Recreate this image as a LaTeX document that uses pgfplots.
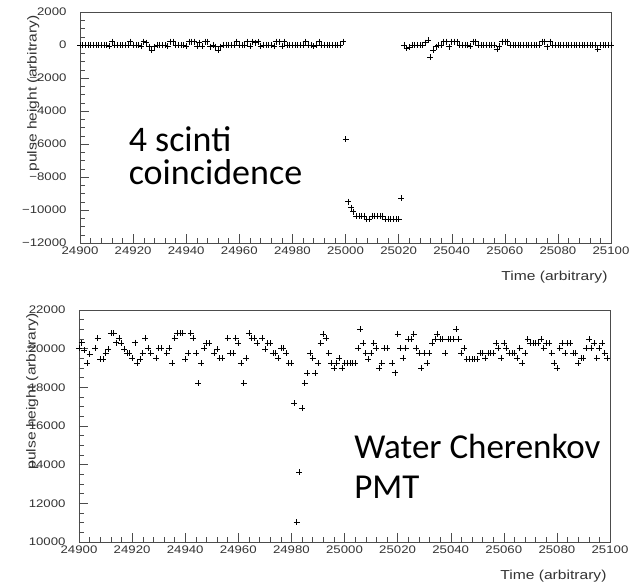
\documentclass[border=0pt]{standalone}
\usepackage{fontspec}
\usepackage{pgfplots}
\pgfplotsset{compat=1.18}
\newfontfamily\rootfont[FakeStretch=1.2]{Liberation Sans}
\newfontfamily\calfont{Carlito}

\pgfplotsset{rootaxis/.style={
  scale only axis, width=531pt, height=231pt,
  xmin=24900, xmax=25100,
  xtick={24900,24920,24940,24960,24980,25000,25020,25040,25060,25080,25100},
  xticklabels={24900,24920,24940,24960,24980,25000,25020,25040,25060,25080,25100},
  minor x tick num=4, minor y tick num=3,
  tick align=inside, xtick pos=bottom, ytick pos=left,
  major tick length=9pt, minor tick length=5pt,
  axis line style={black!70}, every tick/.style={black!70},
  scaled ticks=false, clip=false,
  /pgf/number format/1000 sep={},
  /pgf/number format/assume math mode=true,
  ticklabel style={font=\rootfont\fontsize{11}{12}\selectfont, text=black!80},
  yticklabel style={xshift=-10pt},
  xlabel={Time (arbitrary)}, ylabel={pulse height (arbitrary)},
  label style={font=\rootfont\fontsize{13}{14}\selectfont, text=black!80},
  xlabel style={at={(rel axis cs:1,0)}, anchor=north east, yshift=-25pt},
  ylabel style={at={(rel axis cs:-0.088,1)}, anchor=east},
}}
\tikzset{rootmarks/.style={only marks, mark=+, mark size=3pt, black, line width=0.5pt}}

\begin{document}
\begin{tikzpicture}[x=1pt,y=1pt]
\useasboundingbox (0,0) rectangle (635,-585);

% top panel: 4 scintillator coincidence
\begin{axis}[rootaxis, at={(80pt,-12pt)}, anchor=north west,
  ymin=-12000, ymax=2000, ytick={-12000,-10000,...,2000},
  yticklabels={−12000,−10000,−8000,−6000,−4000,−2000,0,2000}]
\addplot[rootmarks] coordinates {
(24900,0)(24901,0)(24902,0)(24903,0)(24904,0)(24905,0)(24906,0)(24907,0)(24908,0)(24909,0)
(24910,0)(24911,-50)(24912,200)(24913,0)(24914,0)(24915,0)(24916,0)(24917,0)(24918,0)(24919,200)
(24920,0)(24921,0)(24922,0)(24923,-50)(24924,200)(24925,150)(24926,-100)(24927,-300)(24928,-100)(24929,0)
(24930,0)(24931,0)(24932,0)(24933,-50)(24934,200)(24935,200)(24936,0)(24937,0)(24938,0)(24939,0)
(24940,-50)(24941,200)(24942,200)(24943,200)(24944,-50)(24945,150)(24946,-50)(24947,200)(24948,200)(24949,-100)
(24950,0)(24951,-100)(24952,-300)(24953,-100)(24954,0)(24955,0)(24956,0)(24957,0)(24958,0)(24959,200)
(24960,0)(24961,0)(24962,0)(24963,200)(24964,-50)(24965,200)(24966,150)(24967,200)(24968,-50)(24969,0)
(24970,0)(24971,0)(24972,0)(24973,-50)(24974,200)(24975,200)(24976,-50)(24977,200)(24978,0)(24979,0)
(24980,0)(24981,0)(24982,0)(24983,0)(24984,0)(24985,200)(24986,0)(24987,0)(24988,-50)(24989,0)
(24990,200)(24991,0)(24992,0)(24993,0)(24994,0)(24995,0)(24996,0)(24997,0)(24998,0)(24999,200)
(25000,-5700)(25001,-9500)(25002,-9850)(25003,-10100)(25004,-10350)(25005,-10350)(25006,-10350)(25007,-10350)
(25008,-10550)(25009,-10550)(25010,-10350)(25011,-10350)(25012,-10350)(25013,-10350)(25014,-10350)
(25015,-10550)(25016,-10550)(25017,-10550)(25018,-10550)(25019,-10550)(25020,-10550)(25021,-9300)
(25022,0)(25023,-200)(25024,-150)(25025,0)(25026,0)(25027,0)(25028,0)(25029,0)(25030,150)
(25031,300)(25032,-750)(25033,-300)(25034,-100)(25035,0)(25036,0)(25037,200)(25038,200)(25039,-100)
(25040,200)(25041,200)(25042,200)(25043,0)(25044,0)(25045,0)(25046,0)(25047,-50)(25048,200)(25049,200)
(25050,0)(25051,0)(25052,0)(25053,0)(25054,0)(25055,0)(25056,0)(25057,-250)(25058,-50)(25059,200)
(25060,200)(25061,200)(25062,0)(25063,0)(25064,0)(25065,0)(25066,0)(25067,0)(25068,0)(25069,0)
(25070,0)(25071,0)(25072,0)(25073,0)(25074,200)(25075,200)(25076,-100)(25077,200)(25078,0)(25079,0)
(25080,0)(25081,0)(25082,0)(25083,0)(25084,0)(25085,0)(25086,0)(25087,0)(25088,0)(25089,0)
(25090,0)(25091,0)(25092,0)(25093,0)(25094,0)(25095,-250)(25096,0)(25097,0)(25098,0)(25099,0)(25100,0)
};
\node[anchor=base west, inner sep=0, font=\calfont\fontsize{36}{36}\selectfont] at (axis cs:24918.3,-6470) {4 scinti};
\node[anchor=base west, inner sep=0, font=\calfont\fontsize{36}{36}\selectfont] at (axis cs:24918.3,-8480) {coincidence};
\end{axis}

% bottom panel: water Cherenkov PMT
\begin{axis}[rootaxis, at={(79pt,-310pt)}, anchor=north west, height=232pt,
  ymin=10000, ymax=22000, ytick={10000,12000,...,22000}]
\addplot[rootmarks] coordinates {
(24900,20020)(24901,20310)(24902,19930)(24903,19245)(24904,19730)(24906,20020)(24907,20540)(24908,19450)(24909,19450)
(24910,19770)(24911,19970)(24912,20800)(24913,20800)(24914,20310)(24915,20540)(24916,20280)(24917,19970)(24918,19770)(24919,19770)
(24920,19510)(24921,20310)(24922,19245)(24923,19450)(24924,19770)(24925,20540)(24926,20020)(24927,19770)(24929,19510)
(24930,20020)(24931,20020)(24933,19770)(24934,20020)(24935,19245)(24936,20540)(24937,20800)(24938,20800)(24939,20800)
(24940,19450)(24941,19770)(24942,20800)(24943,20540)(24944,19770)(24945,18215)(24946,19245)(24947,20020)(24948,20280)(24949,20280)
(24951,19770)(24952,19970)(24953,19510)(24954,19510)(24956,20540)(24957,19770)(24958,19770)(24959,20540)
(24960,20280)(24961,19245)(24962,18215)(24963,19510)(24964,20800)(24965,20540)(24966,20540)(24967,20280)(24969,20540)
(24970,19970)(24971,20280)(24972,20280)(24973,19770)(24974,19770)(24975,19510)(24976,20020)(24977,20020)(24978,19770)(24979,19245)
(24980,19245)(24981,17180)(24982,11015)(24983,13600)(24984,16920)(24985,18215)(24986,18730)(24987,19770)(24988,19510)(24989,18730)
(24990,19245)(24991,20280)(24992,20760)(24993,20540)(24994,19760)(24995,19250)(24996,18990)(24997,19250)(24998,19500)(24999,18990)
(25000,19250)(25001,19250)(25002,19250)(25003,19250)(25004,19250)(25005,20020)(25006,21000)(25007,20280)(25008,19760)(25009,19450)
(25010,19760)(25011,20280)(25012,20020)(25013,18990)(25014,19250)(25015,20020)(25016,20020)(25018,19250)(25019,18760)
(25020,20760)(25021,20020)(25022,19500)(25023,20020)(25024,20490)(25025,20490)(25026,20760)(25027,20020)(25028,19760)(25029,18990)
(25030,19760)(25031,19250)(25032,19760)(25033,20280)(25034,20490)(25035,20760)(25036,20490)(25037,20490)(25038,19760)(25039,20490)
(25040,20490)(25041,20490)(25042,21000)(25043,20490)(25044,19760)(25045,20020)(25046,19450)(25047,19450)(25048,19450)(25049,19450)
(25050,19450)(25051,19760)(25052,19760)(25053,19500)(25054,19760)(25055,19760)(25056,19760)(25057,20280)(25058,20020)(25059,19500)
(25060,20280)(25061,20020)(25062,19760)(25063,19760)(25064,19760)(25065,19500)(25066,20020)(25067,19250)(25068,19760)(25069,20490)
(25070,20280)(25071,20280)(25072,20280)(25073,20280)(25074,20490)(25075,20020)(25076,20280)(25077,20280)(25078,19760)(25079,19250)
(25080,18990)(25081,20020)(25082,20280)(25083,19760)(25084,20280)(25085,20280)(25086,19760)(25087,19760)(25088,19250)(25089,19500)
(25090,19500)(25091,20020)(25092,20490)(25093,20020)(25094,20280)(25095,19500)(25096,20020)(25097,20280)(25098,19760)(25099,19500)
};
\node[anchor=base west, inner sep=0, font=\calfont\fontsize{35}{35}\selectfont] at (axis cs:25003.6,14340) {Water Cherenkov};
\node[anchor=base west, inner sep=0, font=\calfont\fontsize{35}{35}\selectfont] at (axis cs:25003.6,12274) {PMT};
\end{axis}
\end{tikzpicture}
\end{document}
